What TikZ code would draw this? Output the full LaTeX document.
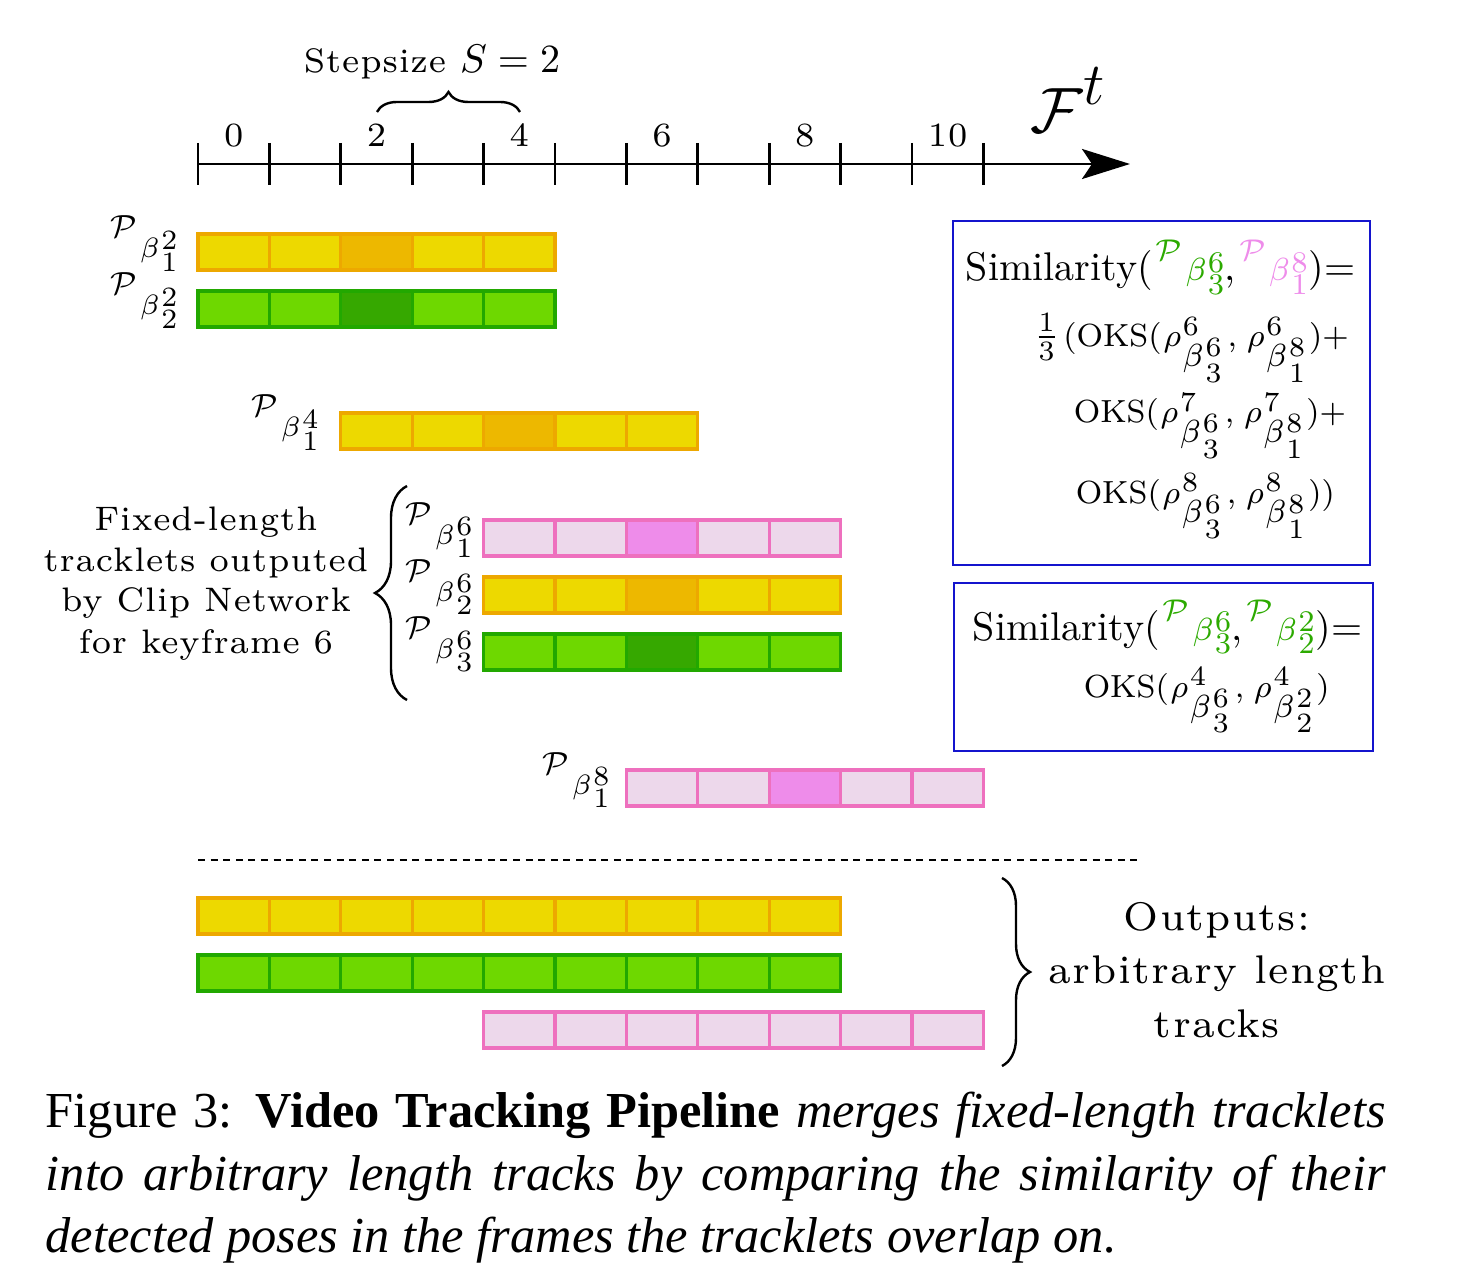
\RequirePackage{fix-cm}
\documentclass[tikz,border=0pt]{standalone}
\usepackage{fontspec}
\usetikzlibrary{arrows.meta,decorations.pathreplacing}
\newfontfamily\lsf{lmroman7-regular}[Extension=.otf, LetterSpace=2.5]
\newfontfamily\lsg{lmroman7-regular}[Extension=.otf, LetterSpace=3.2]
\newfontfamily\capf{Liberation Serif}

\definecolor{yfill}{RGB}{237,217,0}
\definecolor{yline}{RGB}{237,168,0}
\definecolor{ydark}{RGB}{237,184,0}
\definecolor{gfill}{RGB}{110,216,0}
\definecolor{gline}{RGB}{34,168,0}
\definecolor{gdark}{RGB}{54,168,0}
\definecolor{pfill}{RGB}{237,216,235}
\definecolor{pline}{RGB}{238,112,190}
\definecolor{pdark}{RGB}{238,140,234}
\definecolor{gtext}{RGB}{44,170,0}
\definecolor{ptext}{RGB}{238,140,234}
\definecolor{boxblue}{RGB}{20,20,205}

% tracklet label: #1 P size, #2 beta size, #3 digit size, #4 sup, #5 sub
\newcommand\trk[5]{%
  \raisebox{5pt}{\fontsize{#1}{#1}\selectfont$\mathcal{P}$}\kern0.8pt%
  {\fontsize{#2}{#2}\selectfont$\beta$}\kern0.4pt%
  {\fontsize{#3}{#3}\selectfont\rlap{\raisebox{2.2pt}{#4}}\raisebox{-3.4pt}{#5}}}
% rho group: #1 rho sup, #2 beta sup, #3 beta sub
\newcommand\rhob[3]{%
  $\rho$\kern0.5pt\rlap{\raisebox{2.9pt}{\fontsize{7}{8}\selectfont #1}}%
  \raisebox{-5pt}{$\beta$\kern0.5pt{\fontsize{7}{8}\selectfont\rlap{\raisebox{2.5pt}{#2}}\raisebox{-3.9pt}{#3}}}}
% tracklet bar: #1 first column, #2 top y, #3 cells, #4 dark column, #5 fill, #6 line, #7 dark fill
\newcommand\trackbar[7]{%
  \foreach \k in {1,...,#3}{%
    \pgfmathtruncatemacro\cc{#1+\k-1}%
    \ifnum\cc=#4\relax\def\fc{#7}\else\def\fc{#5}\fi
    \filldraw[fill=\fc,draw=#6,line width=0.8pt] ({198+71.4*\cc},#2) rectangle ({198+71.4*(\cc+1)},{#2+36});
  }}

\begin{document}
\begin{tikzpicture}[x=0.25pt,y=-0.25pt,
  every node/.style={inner sep=0pt},
  difont/.style={font=\lsf\fontsize{8.5}{10}\selectfont},
  outfont/.style={font=\lsg\fontsize{10}{12}\selectfont},
  lab/.style={anchor=base east},
  okstxt/.style={anchor=base west, font=\fontsize{8}{10}\selectfont},
  simtxt/.style={anchor=base west, font=\fontsize{10}{12}\selectfont},
  simbox/.style={draw=boxblue, line width=0.6pt},
  brc/.style={line width=0.6pt, decorate},
  axisline/.style={line width=0.7pt}]
\useasboundingbox (0,0) rectangle (1466,1272);

% time axis
\coordinate (axs) at (198,164);
\coordinate (axe) at (1130,164);
\draw[axisline, -{Stealth[length=12pt,width=7.5pt,inset=2.5pt]}] (axs) -- (axe);
\foreach \i in {0,...,11} \draw[axisline] ({198+71.4*\i},143) -- ({198+71.4*\i},185);
\foreach \i in {0,2,4,6,8,10}
  \node[difont, anchor=base] (tk\i) at ({198+71.4*(\i+0.5)},147) {\i};
\node[anchor=base west] (Ft) at (1030,133)
  {\fontsize{16}{16}\selectfont$\mathcal{F}$\raisebox{7pt}{\fontsize{15}{15}\selectfont$t$}};

% step size
\draw[brc, decoration={brace,amplitude=5pt}] (377,112) -- (520,112);
\node[difont, anchor=base] (ss) at (432,73) {Stepsize {\fontsize{10}{12}\selectfont$S=2$}};

% tracklets
\trackbar{0}{234}{5}{2}{yfill}{yline}{ydark}
\trackbar{0}{291}{5}{2}{gfill}{gline}{gdark}
\trackbar{2}{413}{5}{4}{yfill}{yline}{ydark}
\trackbar{4}{520}{5}{6}{pfill}{pline}{pdark}
\trackbar{4}{577}{5}{6}{yfill}{yline}{ydark}
\trackbar{4}{634}{5}{6}{gfill}{gline}{gdark}
\trackbar{6}{770}{5}{8}{pfill}{pline}{pdark}

\node[lab] (lA) at (178,258) {\trk{8}{7}{7}{2}{1}};
\node[lab] (lB) at (178,315) {\trk{8}{7}{7}{2}{2}};
\node[lab] (lC) at (319,437) {\trk{8}{7}{7}{4}{1}};
\node[lab] (lD) at (473,544) {\trk{8}{7}{7}{6}{1}};
\node[lab] (lE) at (473,601) {\trk{8}{7}{7}{6}{2}};
\node[lab] (lF) at (473,658) {\trk{8}{7}{7}{6}{3}};
\node[lab] (lG) at (610,794) {\trk{8}{7}{7}{8}{1}};

% left description
\draw[brc, decoration={brace,amplitude=8pt}] (407,700) -- (407,486);
\node[difont, anchor=base] (fl1) at (206,530) {Fixed-length};
\node[difont, anchor=base] (fl2) at (206,571) {tracklets outputed};
\node[difont, anchor=base] (fl3) at (206,612) {by Clip Network};
\node[difont, anchor=base] (fl4) at (206,653) {for keyframe 6};

% similarity boxes
\node[simbox, minimum width=104.25pt, minimum height=86pt] (box1) at (1161.5,393) {};
\node[simtxt] (s1a) at (965,281) {Similarity(\kern0.8pt{\color{gtext}\trk{7.5}{8}{7.5}{6}{3}},\kern1pt{\color{ptext}\trk{7.5}{8}{7.5}{8}{1}}\kern0.3pt)=};
\node[okstxt] (s1b) at (1033,347) {{\fontsize{10}{12}\selectfont$\frac{1}{3}$}\kern1pt(OKS(\kern0.5pt\rhob{6}{6}{3}\kern1.5pt,\kern2.5pt\rhob{6}{8}{1}\kern1pt)+};
\node[okstxt] (s1c) at (1073,423) {OKS(\kern0.5pt\rhob{7}{6}{3}\kern1.5pt,\kern2.5pt\rhob{7}{8}{1}\kern1pt)+};
\node[okstxt] (s1d) at (1075,503) {OKS(\kern0.5pt\rhob{8}{6}{3}\kern1.5pt,\kern2.5pt\rhob{8}{8}{1}\kern1pt))};

\node[simbox, minimum width=104.75pt, minimum height=42pt] (box2) at (1163.5,667) {};
\node[simtxt] (s2a) at (972,640) {Similarity(\kern0.8pt{\color{gtext}\trk{7.5}{8}{7.5}{6}{3}},\kern1pt{\color{gtext}\trk{7.5}{8}{7.5}{2}{2}}\kern0.3pt)=};
\node[okstxt] (s2b) at (1083,697) {OKS(\kern0.5pt\rhob{4}{6}{3}\kern1.5pt,\kern2.5pt\rhob{4}{2}{2}\kern1pt)};

% merge line
\draw[line width=0.65pt, dash pattern=on 1.75pt off 1.4pt] (198,860) -- (1140,860);

% output tracks
\trackbar{0}{898}{9}{-1}{yfill}{yline}{ydark}
\trackbar{0}{955}{9}{-1}{gfill}{gline}{gdark}
\trackbar{4}{1012}{7}{-1}{pfill}{pline}{pdark}

\draw[brc, decoration={brace,amplitude=7pt}] (1002,878) -- (1002,1066);
\node[outfont, anchor=base] (o1) at (1217,930) {Outputs:};
\node[outfont, anchor=base] (o2) at (1217,983) {arbitrary length};
\node[outfont, anchor=base] (o3) at (1217,1037) {tracks};

% caption
\node[anchor=base west, font=\capf\fontsize{12.6}{15.6}\selectfont] (cap1) at (45,1127)
  {\hbox to 335pt{Figure 3: \textbf{Video Tracking Pipeline} \textit{merges fixed-length tracklets}}};
\node[anchor=base west, font=\capf\fontsize{12.6}{15.6}\selectfont] (cap2) at (45,1190)
  {\hbox to 335pt{\itshape into arbitrary length tracks by comparing the similarity of their}};
\node[anchor=base west, font=\capf\fontsize{12.6}{15.6}\selectfont\itshape] (cap3) at (45,1252)
  {detected poses in the frames the tracklets overlap on.};
\end{tikzpicture}
\end{document}
